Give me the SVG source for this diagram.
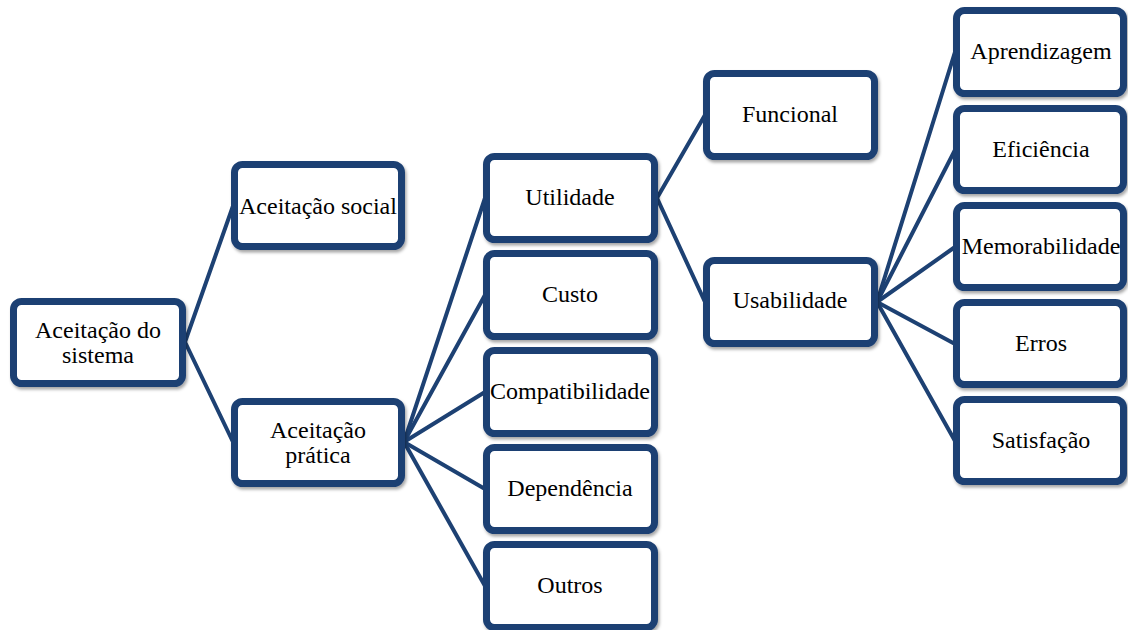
<svg xmlns="http://www.w3.org/2000/svg" width="1128" height="630" viewBox="0 0 1128 630">
  <defs>
    <filter id="shadow" x="-10%" y="-10%" width="125%" height="130%">
      <feDropShadow dx="1.5" dy="2.5" stdDeviation="1.5" flood-color="#000" flood-opacity="0.35"/>
    </filter>
  </defs>
  <style>
    .box { fill: #ffffff; stroke: #1d4173; stroke-width: 7; filter: url(#shadow); }
    .lbl { font-family: "Liberation Serif", "Times New Roman", serif; font-size: 24px; fill: #000; text-anchor: middle; dominant-baseline: central; }
    .edge { stroke: #1d4173; stroke-width: 4; fill: none; stroke-linecap: round; }
  </style>
  <rect width="1128" height="630" fill="#ffffff"/>

  <!-- connectors -->
  <g id="connectors">
    <line class="edge" x1="185" y1="342" x2="233" y2="206"/>
    <line class="edge" x1="185" y1="342" x2="233" y2="442"/>
    <line class="edge" x1="404" y1="442" x2="485" y2="198"/>
    <line class="edge" x1="404" y1="442" x2="485" y2="295"/>
    <line class="edge" x1="404" y1="442" x2="485" y2="392"/>
    <line class="edge" x1="404" y1="442" x2="485" y2="489"/>
    <line class="edge" x1="404" y1="442" x2="485" y2="586"/>
    <line class="edge" x1="657" y1="198" x2="705" y2="115"/>
    <line class="edge" x1="657" y1="198" x2="705" y2="302"/>
    <line class="edge" x1="877" y1="302" x2="955" y2="52"/>
    <line class="edge" x1="877" y1="302" x2="955" y2="150"/>
    <line class="edge" x1="877" y1="302" x2="955" y2="247"/>
    <line class="edge" x1="877" y1="302" x2="955" y2="344"/>
    <line class="edge" x1="877" y1="302" x2="955" y2="441"/>
  </g>

  <g id="aceitacao-sistema">
    <rect class="box" x="13.5" y="301.5" width="169" height="82" rx="8"/>
    <text class="lbl" x="98" y="330">Aceitação do</text>
    <text class="lbl" x="98" y="355">sistema</text>
  </g>
  <g id="aceitacao-social">
    <rect class="box" x="234.5" y="164.5" width="167" height="82" rx="8"/>
    <text class="lbl" x="318" y="206">Aceitação social</text>
  </g>
  <g id="aceitacao-pratica">
    <rect class="box" x="234.5" y="401.5" width="167" height="82" rx="8"/>
    <text class="lbl" x="318" y="430">Aceitação</text>
    <text class="lbl" x="318" y="455">prática</text>
  </g>

  <g id="utilidade">
    <rect class="box" x="486.5" y="156.5" width="168" height="83" rx="8"/>
    <text class="lbl" x="570" y="197">Utilidade</text>
  </g>
  <g id="custo">
    <rect class="box" x="486.5" y="253.5" width="168" height="83" rx="8"/>
    <text class="lbl" x="570" y="294">Custo</text>
  </g>
  <g id="compatibilidade">
    <rect class="box" x="486.5" y="350.5" width="168" height="83" rx="8"/>
    <text class="lbl" x="570" y="391">Compatibilidade</text>
  </g>
  <g id="dependencia">
    <rect class="box" x="486.5" y="447.5" width="168" height="83" rx="8"/>
    <text class="lbl" x="570" y="488">Dependência</text>
  </g>
  <g id="outros">
    <rect class="box" x="486.5" y="544.5" width="168" height="83" rx="8"/>
    <text class="lbl" x="570" y="585">Outros</text>
  </g>

  <g id="funcional">
    <rect class="box" x="706.5" y="73.5" width="168" height="83" rx="8"/>
    <text class="lbl" x="790" y="114">Funcional</text>
  </g>
  <g id="usabilidade">
    <rect class="box" x="706.5" y="260.5" width="168" height="83" rx="8"/>
    <text class="lbl" x="790" y="300">Usabilidade</text>
  </g>

  <g id="aprendizagem">
    <rect class="box" x="956.5" y="10.5" width="167" height="83" rx="8"/>
    <text class="lbl" x="1041" y="51">Aprendizagem</text>
  </g>
  <g id="eficiencia">
    <rect class="box" x="956.5" y="108.5" width="167" height="82" rx="8"/>
    <text class="lbl" x="1041" y="149">Eficiência</text>
  </g>
  <g id="memorabilidade">
    <rect class="box" x="956.5" y="205.5" width="167" height="82" rx="8"/>
    <text class="lbl" x="1041" y="246">Memorabilidade</text>
  </g>
  <g id="erros">
    <rect class="box" x="956.5" y="302.5" width="167" height="82" rx="8"/>
    <text class="lbl" x="1041" y="343">Erros</text>
  </g>
  <g id="satisfacao">
    <rect class="box" x="956.5" y="399.5" width="167" height="82" rx="8"/>
    <text class="lbl" x="1041" y="440">Satisfação</text>
  </g>
</svg>
